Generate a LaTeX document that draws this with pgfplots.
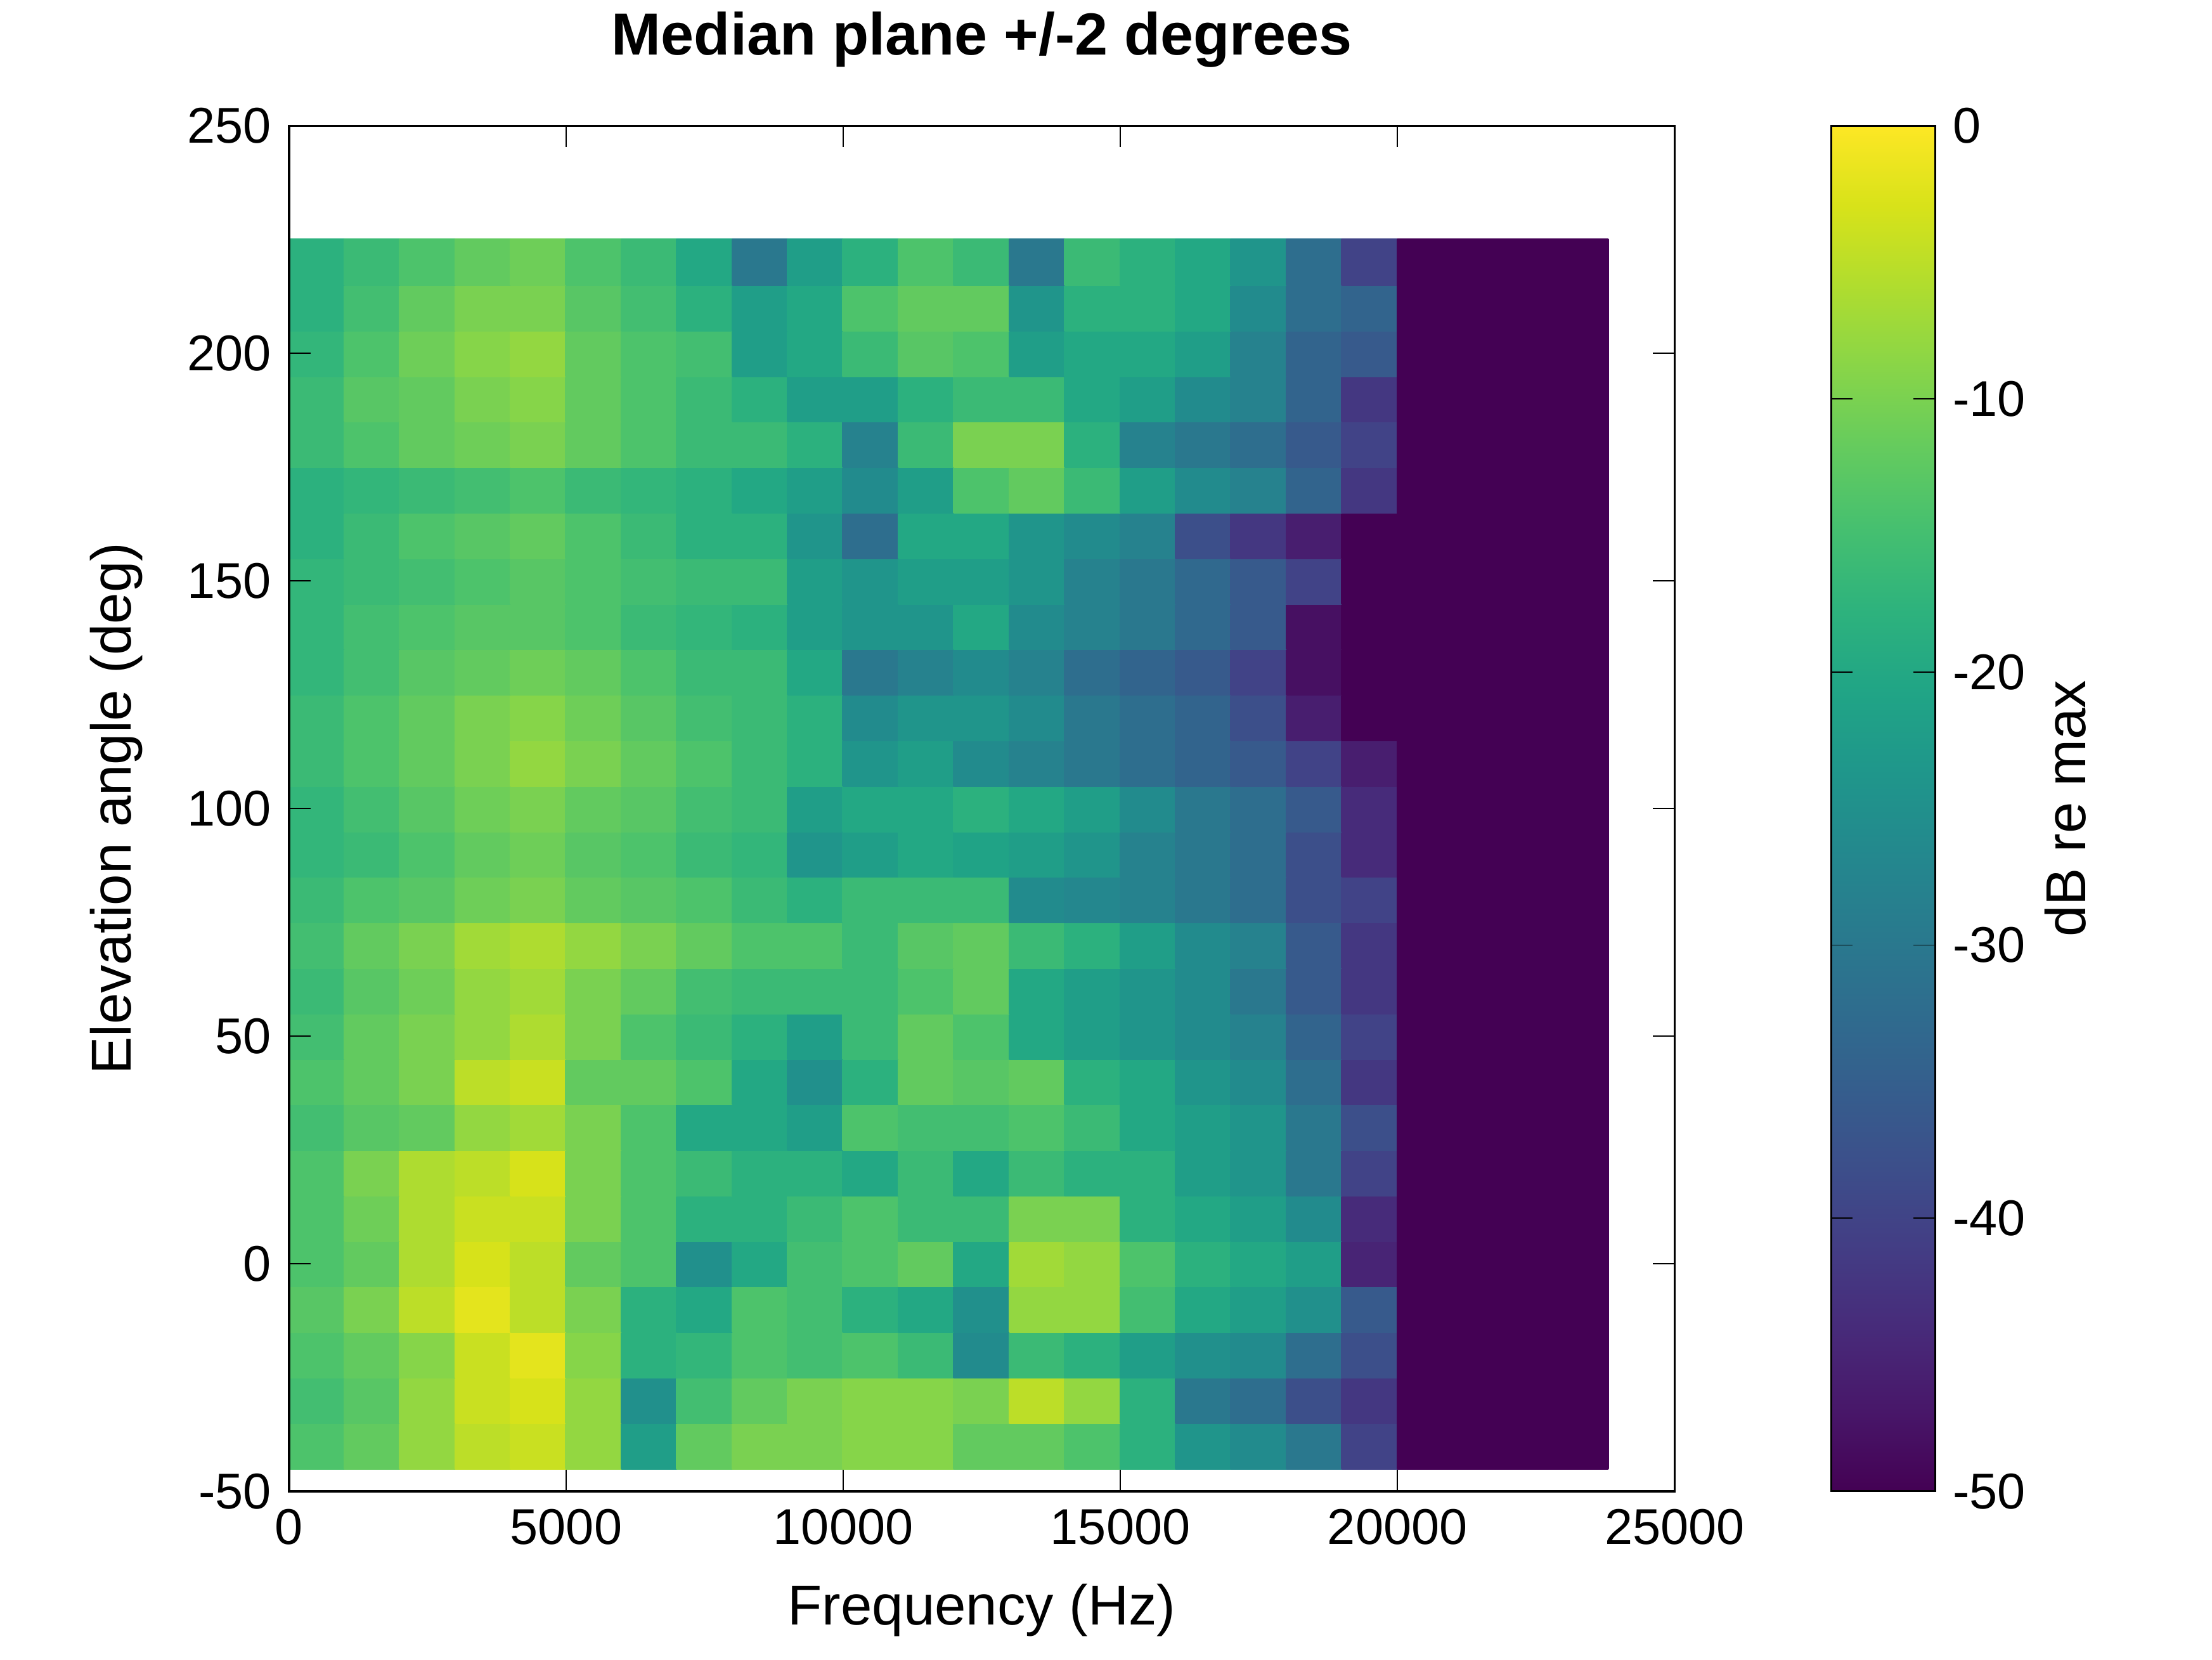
\documentclass[border=0pt]{standalone}
\usepackage{pgfplots}
\pgfplotsset{compat=1.18}
\usepackage{pgfplotstable}
\usepackage{fontspec}
\setmainfont{Liberation Sans}
\pgfplotstableread{
r c1 c2 c3 c4 c5 c6 c7 c8 c9 c10 c11 c12 c13 c14 c15 c16 c17 c18 c19 c20
-40 -14 -12 -8 -5 -4 -8 -22 -12 -10 -10 -9 -9 -12 -12 -14 -18 -24 -26 -30 -40
-30 -15 -13 -8 -4 -3 -8 -25 -15 -12 -10 -9 -9 -10 -5 -8 -18 -30 -32 -38 -42
-20 -14 -12 -9 -4 -2 -9 -18 -17 -14 -15 -14 -16 -26 -16 -18 -22 -25 -26 -32 -38
-10 -13 -10 -5 -2 -5 -10 -18 -20 -14 -15 -18 -20 -25 -8 -8 -15 -20 -22 -25 -36
0 -14 -12 -6 -3 -5 -12 -14 -25 -20 -15 -14 -12 -20 -7 -8 -14 -18 -20 -22 -45
10 -14 -11 -6 -4 -4 -10 -14 -18 -18 -16 -14 -16 -16 -10 -10 -18 -20 -22 -26 -44
20 -14 -10 -6 -5 -3 -10 -14 -16 -18 -18 -20 -16 -20 -16 -18 -18 -22 -24 -30 -40
30 -15 -13 -12 -8 -7 -10 -14 -20 -20 -22 -14 -15 -15 -14 -16 -20 -22 -24 -30 -38
40 -14 -12 -10 -5 -4 -12 -12 -14 -20 -25 -18 -12 -13 -12 -18 -20 -24 -26 -32 -42
50 -15 -12 -10 -8 -6 -10 -14 -16 -18 -22 -16 -12 -14 -20 -22 -24 -26 -28 -34 -40
60 -16 -13 -11 -8 -7 -10 -12 -15 -16 -16 -16 -14 -12 -20 -22 -24 -26 -30 -36 -42
70 -15 -12 -10 -7 -6 -8 -10 -12 -14 -14 -16 -13 -12 -16 -18 -22 -26 -28 -36 -42
80 -16 -14 -13 -11 -10 -12 -13 -14 -16 -18 -16 -16 -16 -26 -27 -28 -30 -32 -38 -40
90 -17 -16 -14 -12 -11 -13 -14 -16 -17 -24 -22 -20 -21 -22 -24 -28 -30 -32 -38 -44
100 -17 -15 -13 -11 -10 -12 -13 -15 -16 -22 -20 -20 -18 -20 -22 -26 -30 -32 -36 -44
110 -16 -14 -12 -10 -8 -10 -12 -14 -16 -18 -24 -22 -26 -28 -30 -32 -34 -36 -40 -46
120 -16 -14 -12 -10 -9 -11 -13 -15 -16 -18 -26 -24 -24 -26 -30 -32 -34 -38 -46 -50
130 -17 -15 -13 -12 -11 -12 -14 -16 -16 -20 -30 -28 -26 -28 -32 -34 -36 -40 -48 -50
140 -17 -15 -14 -13 -13 -14 -16 -17 -18 -22 -24 -24 -20 -26 -28 -30 -33 -36 -48 -50
150 -17 -16 -15 -14 -13 -14 -15 -16 -16 -22 -24 -22 -22 -24 -28 -30 -33 -36 -40 -50
160 -18 -16 -14 -13 -12 -14 -16 -18 -18 -24 -32 -20 -20 -24 -26 -28 -38 -42 -46 -50
170 -18 -17 -16 -15 -14 -16 -17 -18 -20 -22 -26 -22 -14 -12 -16 -22 -26 -28 -34 -42
180 -16 -14 -12 -11 -10 -12 -14 -16 -16 -18 -28 -16 -10 -10 -18 -28 -30 -32 -36 -40
190 -16 -13 -12 -10 -9 -12 -14 -16 -18 -22 -22 -18 -16 -16 -20 -22 -26 -28 -34 -42
200 -17 -14 -11 -9 -8 -12 -14 -15 -22 -20 -16 -13 -14 -22 -20 -20 -22 -28 -34 -36
210 -18 -15 -12 -10 -10 -13 -15 -18 -22 -20 -14 -12 -12 -24 -18 -18 -20 -26 -32 -34
220 -18 -16 -14 -12 -11 -14 -16 -20 -30 -22 -18 -14 -16 -30 -16 -18 -20 -24 -32 -40
}\datatab
\begin{document}
\begin{tikzpicture}
\useasboundingbox (-57.5pt,-33.5pt) rectangle (382.5pt,296.6pt);
\begin{axis}[
  at={(0,0)}, anchor=south west,
  width=275.6pt, height=271.6pt, scale only axis,
  xmin=0, xmax=25000, ymin=-50, ymax=250,
  xtick={0,5000,10000,15000,20000,25000}, ytick={-50,0,50,100,150,200,250},
  /pgf/number format/1000 sep={}, /pgf/number format/assume math mode=true,
  scaled x ticks=false,
  tick align=inside, tick style={black},
  font=\fontsize{10}{12}\selectfont,
  title={\fontsize{11.8}{13}\selectfont\bfseries Median plane +/-2 degrees},
  title style={yshift=2pt},
  xlabel={\fontsize{11.2}{13}\selectfont Frequency (Hz)}, ylabel={\fontsize{11.2}{13}\selectfont Elevation angle (deg)},
  xlabel style={yshift=-1pt}, ylabel style={yshift=2pt},
  colormap/viridis, point meta min=-50, point meta max=0,
  colorbar, colorbar/width=20.7pt,
  colorbar style={at={(parent axis.north east)}, anchor=north west, xshift=22.6pt,
    ytick={-50,-40,-30,-20,-10,0},
    ylabel={\fontsize{11.2}{13}\selectfont dB re max}, ylabel style={yshift=3pt}, yticklabel pos=right,
    /pgf/number format/assume math mode=true},
  axis on top,
]
\pgfplotsinvokeforeach{0,...,26}{
  \pgfplotstablegetelem{#1}{r}\of\datatab \edef\yy{\pgfplotsretval}
  \foreach \k in {1,...,20}{
    \pgfplotstablegetelem{#1}{c\k}\of\datatab \edef\vv{\pgfplotsretval}
    \edef\xa{\the\numexpr(\k-1)*1000\relax}\edef\xb{\the\numexpr\k*1000\relax}
    \edef\ya{\the\numexpr\yy-5\relax}\edef\yb{\the\numexpr\yy+5\relax}
    \edef\tmp{\noexpand\addplot[patch, patch type=rectangle, shader=flat corner, draw=none, point meta=explicit, forget plot] coordinates {(\xa,\ya) [\vv] (\xb,\ya) [\vv] (\xb,\yb) [\vv] (\xa,\yb) [\vv]};}
    \tmp
  }
}
\addplot[patch, patch type=rectangle, shader=flat corner, draw=none, point meta=explicit, forget plot] coordinates {(20000,-45) [-50] (23800,-45) [-50] (23800,225) [-50] (20000,225) [-50]};
\end{axis}
\end{tikzpicture}
\end{document}
